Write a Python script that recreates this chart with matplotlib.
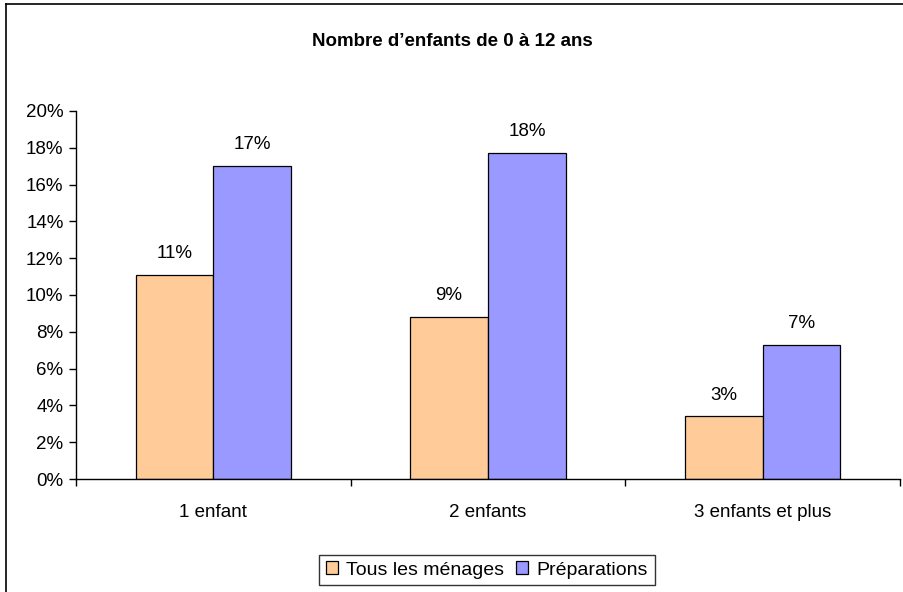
import matplotlib.pyplot as plt
from matplotlib.lines import Line2D
import numpy as np

categories = ["1 enfant", "2 enfants", "3 enfants et plus"]
tous_menages = [11.1, 8.8, 3.4]
preparations = [17.0, 17.7, 7.3]
series_names = ["Tous les ménages", "Préparations"]

plt.rcParams['font.family'] = ['Liberation Sans', 'DejaVu Sans']
FS = 13.5

W, H = 904, 592
fig = plt.figure(figsize=(W / 100, H / 100), dpi=100)

# cadre autour du graphique (seuls les bords gauche et haut sont visibles)
fig.add_artist(Line2D([6 / W, 6 / W], [0, 1 - 4 / H], transform=fig.transFigure,
                      color="black", linewidth=1.2))
fig.add_artist(Line2D([6 / W, 1], [1 - 4 / H, 1 - 4 / H], transform=fig.transFigure,
                      color="black", linewidth=1.2))

ax = fig.add_axes([76 / W, 1 - 479 / H, (900 - 76) / W, (479 - 111) / H])

x = np.arange(len(categories))
w = 78 / 275.5
b1 = ax.bar(x - w / 2, tous_menages, w, color="#FFCC99", edgecolor="black", linewidth=0.9,
            label=series_names[0])
b2 = ax.bar(x + w / 2, preparations, w, color="#9999FF", edgecolor="black", linewidth=0.9,
            label=series_names[1])

for bars, vals in [(b1, tous_menages), (b2, preparations)]:
    for rect, v in zip(bars, vals):
        ax.text(rect.get_x() + rect.get_width() / 2, v + 0.7, f"{round(v):d}%",
                ha="center", va="bottom", fontsize=FS)

ax.set_xlim(-0.5, 2.5)
ax.set_ylim(0, 20)
ax.set_yticks(range(0, 21, 2))
ax.set_yticklabels([f"{v}%" for v in range(0, 21, 2)], fontsize=FS)
ax.set_xticks(x)
ax.set_xticklabels(categories, fontsize=FS)
ax.set_xticks([-0.5, 0.5, 1.5, 2.5], minor=True)
ax.tick_params(axis="x", which="major", length=0, pad=18)
ax.tick_params(axis="x", which="minor", length=5, width=1)
ax.tick_params(axis="y", length=5, width=1, pad=4)
for s in ["top", "right"]:
    ax.spines[s].set_visible(False)
ax.spines["left"].set_linewidth(1)
ax.spines["bottom"].set_linewidth(1)

fig.text(0.5, 1 - 42 / H, "Nombre d\u2019enfants de 0 à 12 ans", ha="center", va="center",
         fontsize=FS, fontweight="bold")

leg = fig.legend(loc="center", bbox_to_anchor=(487 / W, 1 - 570 / H), ncol=2,
                 fontsize=14, frameon=True, fancybox=False, edgecolor="black",
                 handlelength=0.6, handleheight=0.6, handletextpad=0.45,
                 columnspacing=0.6, borderpad=0.35, borderaxespad=0)
leg.get_frame().set_linewidth(1)

fig.savefig("out.png", dpi=100)
